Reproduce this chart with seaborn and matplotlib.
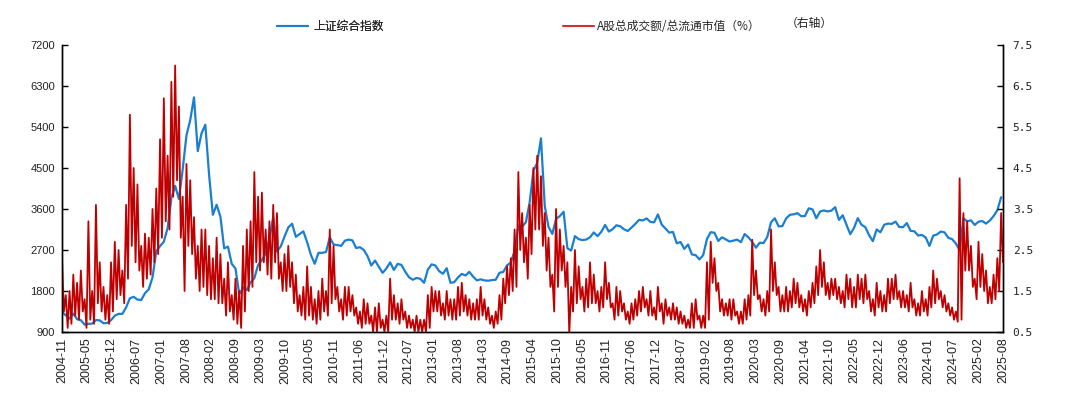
import numpy as np
import pandas as pd
import matplotlib
matplotlib.use("Agg")
import matplotlib.pyplot as plt
from matplotlib.lines import Line2D
import seaborn as sns

# ---------------- data (monthly, starting 2004-11) ----------------
start_month = "2004-11"
n_months = 250

# 上证综合指数 (left axis), one value per month
sh_index = [
    1340, 1266, 1191, 1306, 1181, 1159, 1060, 1080, 1083, 1162, 1155, 1092,
    1099, 1161, 1258, 1299, 1298, 1440, 1641, 1672, 1612, 1601, 1752, 1837,
    2099, 2675, 2786, 2881, 3183, 3841, 4109, 3820, 4471, 5218, 5552, 6050,
    4871, 5262, 5450, 4348, 3473, 3693, 3433, 2736, 2775, 2397, 2293, 1729,
    1871, 1821, 1991, 2082, 2373, 2477, 2632, 2959, 3412, 2667, 2779, 2996,
    3195, 3277, 2989, 3051, 3109, 2870, 2592, 2398, 2638, 2638, 2655, 2979,
    2820, 2808, 2790, 2905, 2928, 2911, 2743, 2762, 2701, 2568, 2359, 2468,
    2333, 2199, 2292, 2428, 2262, 2396, 2373, 2225, 2103, 2047, 2086, 2068,
    1980, 2269, 2385, 2359, 2236, 2178, 2300, 1979, 1994, 2098, 2175, 2141,
    2220, 2116, 2033, 2056, 2033, 2026, 2039, 2048, 2202, 2217, 2364, 2420,
    2683, 3235, 3210, 3310, 3748, 4442, 4612, 5150, 3664, 3206, 3053, 3383,
    3445, 3539, 2738, 2688, 3004, 2938, 2917, 2930, 2979, 3085, 3005, 3100,
    3250, 3104, 3159, 3242, 3223, 3155, 3117, 3192, 3273, 3361, 3349, 3393,
    3317, 3307, 3481, 3259, 3169, 3082, 3095, 2847, 2876, 2725, 2821, 2603,
    2588, 2494, 2585, 2941, 3091, 3078, 2899, 2979, 2932, 2886, 2905, 2929,
    2872, 3050, 2977, 2880, 2750, 2860, 2852, 2985, 3310, 3396, 3218, 3225,
    3392, 3473, 3483, 3509, 3441, 3447, 3615, 3591, 3397, 3544, 3568, 3547,
    3564, 3640, 3361, 3462, 3252, 3047, 3186, 3399, 3253, 3202, 3024, 2893,
    3151, 3089, 3255, 3280, 3273, 3323, 3205, 3202, 3291, 3120, 3110, 3018,
    3030, 2975, 2789, 3015, 3041, 3105, 3087, 2967, 2939, 2842, 2700, 3400,
    3326, 3352, 3250, 3321, 3336, 3279, 3347, 3444, 3573, 3858,
]

# A股总成交额/总流通市值 (%) (right axis): monthly high and low
turnover_high = [
    2.3, 1.4, 1.5, 1.9, 1.7, 2.0, 1.3, 3.2, 1.5, 3.6, 2.2, 1.6,
    1.4, 2.2, 2.7, 2.5, 2.0, 3.6, 5.8, 4.5, 4.1, 2.6, 2.9, 2.8,
    3.5, 4.0, 5.2, 6.2, 4.8, 6.6, 7.0, 6.0, 3.8, 4.6, 4.2, 3.3,
    2.6, 3.0, 3.0, 2.6, 2.3, 2.8, 2.4, 1.8, 2.2, 1.4, 1.8, 1.5,
    2.6, 3.0, 3.2, 4.4, 3.8, 3.9, 3.0, 3.2, 3.6, 3.4, 2.2, 2.4,
    2.6, 2.2, 1.9, 1.4, 1.6, 2.1, 1.6, 1.3, 1.5, 1.8, 1.5, 3.0,
    2.6, 1.6, 1.3, 1.6, 1.6, 1.4, 1.1, 1.0, 1.3, 1.2, 0.9, 1.1,
    1.2, 0.8, 0.9, 1.8, 1.4, 1.2, 1.3, 1.0, 0.9, 0.8, 0.9, 0.8,
    0.8, 1.4, 1.6, 1.5, 1.5, 1.2, 1.5, 1.3, 1.3, 1.6, 1.7, 1.4,
    1.3, 1.2, 1.3, 1.6, 1.3, 1.1, 0.9, 1.0, 1.4, 1.8, 2.1, 2.3,
    3.0, 4.4, 3.4, 2.8, 3.6, 4.5, 4.8, 4.3, 3.4, 2.8, 1.9, 3.5,
    3.0, 2.6, 2.2, 1.6, 2.5, 2.1, 1.6, 1.8, 2.2, 1.9, 1.5, 1.6,
    2.2, 1.7, 1.2, 1.6, 1.5, 1.2, 1.0, 1.2, 1.3, 1.5, 1.6, 1.3,
    1.5, 1.1, 1.6, 1.2, 1.3, 1.1, 1.2, 1.1, 1.0, 0.9, 0.8, 1.2,
    1.3, 0.9, 0.9, 2.2, 2.7, 2.3, 1.7, 1.3, 1.2, 1.3, 1.3, 1.0,
    1.0, 1.3, 1.4, 2.75, 2.0, 1.4, 1.3, 1.5, 3.0, 2.2, 1.6, 1.4,
    1.6, 1.5, 1.8, 1.7, 1.4, 1.3, 1.5, 1.7, 2.1, 2.5, 2.2, 1.7,
    1.8, 1.8, 1.6, 1.5, 1.9, 1.8, 1.6, 1.9, 1.8, 1.9, 1.5, 1.3,
    1.7, 1.5, 1.4, 1.8, 1.8, 1.9, 1.5, 1.5, 1.4, 1.7, 1.3, 1.2,
    1.5, 1.3, 1.6, 2.0, 1.8, 1.5, 1.4, 1.2, 1.1, 1.0, 4.25, 3.4,
    3.2, 2.6, 1.8, 2.7, 2.4, 2.0, 1.6, 1.9, 2.3, 3.4,
]
turnover_low = [
    1.0, 0.6, 0.7, 0.9, 0.8, 1.0, 0.6, 0.8, 0.7, 1.2, 1.0, 0.8,
    0.7, 1.0, 1.3, 1.4, 1.2, 1.8, 2.6, 2.2, 2.0, 1.6, 1.8, 1.9,
    2.2, 2.4, 2.8, 3.2, 3.0, 3.8, 4.2, 2.8, 1.5, 2.6, 2.4, 1.8,
    1.5, 1.6, 1.4, 1.3, 1.3, 1.2, 1.2, 0.9, 1.0, 0.8, 0.7, 0.6,
    1.0, 1.5, 1.6, 2.2, 2.0, 2.2, 1.9, 1.8, 2.2, 1.8, 1.5, 1.5,
    1.6, 1.2, 1.0, 0.9, 0.8, 0.9, 0.8, 0.7, 0.8, 1.0, 0.9, 1.2,
    1.3, 1.0, 0.8, 0.9, 1.0, 0.9, 0.7, 0.6, 0.7, 0.7, 0.5, 0.5,
    0.6, 0.5, 0.5, 0.8, 0.8, 0.7, 0.8, 0.6, 0.6, 0.5, 0.5, 0.5,
    0.5, 0.6, 1.0, 1.0, 0.9, 0.8, 0.9, 0.8, 0.8, 0.9, 1.0, 0.9,
    0.8, 0.8, 0.8, 0.9, 0.8, 0.7, 0.6, 0.7, 0.8, 1.2, 1.4, 1.5,
    1.6, 2.5, 2.2, 1.8, 2.4, 3.0, 3.0, 2.6, 2.0, 1.6, 1.0, 1.6,
    2.0, 1.6, 0.45, 1.0, 1.2, 1.3, 1.0, 1.1, 1.2, 1.2, 1.0, 1.1,
    1.3, 1.1, 0.8, 0.9, 1.0, 0.8, 0.7, 0.8, 0.9, 1.0, 1.1, 0.9,
    0.9, 0.8, 1.0, 0.7, 0.9, 0.8, 0.8, 0.7, 0.7, 0.6, 0.6, 0.6,
    0.8, 0.6, 0.6, 0.8, 1.7, 1.5, 1.0, 0.9, 0.9, 0.8, 0.9, 0.7,
    0.7, 0.8, 0.9, 1.4, 1.3, 1.0, 0.9, 1.0, 1.5, 1.4, 1.0, 1.0,
    1.0, 1.1, 1.2, 1.1, 1.0, 0.9, 1.1, 1.2, 1.4, 1.6, 1.4, 1.3,
    1.4, 1.3, 1.2, 1.1, 1.3, 1.1, 1.1, 1.3, 1.2, 1.3, 1.0, 0.9,
    1.1, 1.0, 1.0, 1.2, 1.3, 1.3, 1.1, 1.1, 1.0, 1.1, 0.9, 0.9,
    1.0, 0.9, 1.1, 1.2, 1.3, 1.1, 1.0, 0.9, 0.8, 0.75, 0.8, 2.0,
    2.0, 1.6, 1.3, 1.6, 1.5, 1.2, 1.2, 1.3, 1.5, 2.2,
]

x_tick_labels = [
    "2004-11", "2005-05", "2005-12", "2006-07", "2007-01", "2007-08", "2008-02",
    "2008-09", "2009-03", "2009-10", "2010-05", "2010-11", "2011-06", "2011-12",
    "2012-07", "2013-01", "2013-08", "2014-03", "2014-09", "2015-04", "2015-10",
    "2016-05", "2016-11", "2017-06", "2017-12", "2018-07", "2019-02", "2019-08",
    "2020-03", "2020-09", "2021-04", "2021-10", "2022-05", "2022-12", "2023-06",
    "2024-01", "2024-07", "2025-02", "2025-08",
]
left_ticks = [900, 1800, 2700, 3600, 4500, 5400, 6300, 7200]
right_ticks = [0.5, 1.5, 2.5, 3.5, 4.5, 5.5, 6.5, 7.5]

label_index = "上证综合指数"
label_turn = "A股总成交额/总流通市值（%）"
label_right = "（右轴）"

# ---------------- tables ----------------
month_pos = np.arange(n_months, dtype=float)
df_index = pd.DataFrame({"m": month_pos, "v": sh_index})
red_x = np.column_stack([month_pos, month_pos + 0.5]).ravel()
red_y = np.column_stack([turnover_high, turnover_low]).ravel()
df_turn = pd.DataFrame({"m": red_x, "v": red_y})

# ---------------- style ----------------
sns.set_style("white")
plt.rcParams["font.family"] = ["Liberation Sans", "Noto Sans CJK SC", "DejaVu Sans"]
plt.rcParams["axes.unicode_minus"] = False

BLUE = "#1a7fd0"
RED = "#c00000"

fig = plt.figure(figsize=(10.8, 3.94), dpi=100)
ax = fig.add_axes([62 / 1080, 1 - 332 / 394, (1003 - 62) / 1080, (332 - 45) / 394])
ax2 = ax.twinx()

sns.lineplot(data=df_index, x="m", y="v", ax=ax, color=BLUE, linewidth=1.6,
             estimator=None, sort=False)
sns.lineplot(data=df_turn, x="m", y="v", ax=ax2, color=RED, linewidth=1.3,
             estimator=None, sort=False)

xmax = n_months - 0.5
ax.set_xlim(0, xmax)
ax.set_ylim(900, 7200)
ax2.set_ylim(0.5, 7.5)

tick_pos = np.linspace(0, xmax, len(x_tick_labels))
ax.set_xticks(tick_pos)
ax.set_xticklabels(x_tick_labels, rotation=90, fontsize=9, family="Liberation Sans")
ax.set_yticks(left_ticks)
ax.set_yticklabels([str(v) for v in left_ticks], fontsize=8, family="Liberation Sans")
ax2.set_yticks(right_ticks)
ax2.set_yticklabels([f"{v:.1f}" for v in right_ticks], fontsize=8,
                    family="DejaVu Sans Mono", color="#222222")

for a in (ax, ax2):
    a.set_xlabel("")
    a.set_ylabel("")
    a.spines["top"].set_visible(False)
    for s in ("left", "right", "bottom"):
        a.spines[s].set_color("black")
        a.spines[s].set_linewidth(1.0)
ax.tick_params(axis="x", direction="in", length=4, width=1, pad=4, colors="black",
               labelcolor="#222222")
ax.tick_params(axis="y", direction="in", length=4, width=1, pad=5, colors="black",
               labelcolor="#222222", right=False)
ax2.tick_params(axis="y", direction="in", length=4, width=1, pad=7, colors="black",
                labelcolor="#222222")
ax.grid(False)
ax2.grid(False)

# ---------------- legend ----------------
cjk = ["Noto Sans CJK SC", "DejaVu Sans"]
h1 = Line2D([], [], color=BLUE, linewidth=1.5)
h2 = Line2D([], [], color="#d03030", linewidth=1.5)
leg1 = fig.legend([h1], [label_index], loc="center left",
                  bbox_to_anchor=(277 / 1080, 1 - 26.5 / 394), frameon=False,
                  borderpad=0, borderaxespad=0, handlelength=2.6, handletextpad=0.45,
                  prop={"family": cjk, "size": 8.5})
leg2 = fig.legend([h2], [label_turn], loc="center left",
                  bbox_to_anchor=(563 / 1080, 1 - 26.5 / 394), frameon=False,
                  borderpad=0, borderaxespad=0, handlelength=2.6, handletextpad=0.25,
                  prop={"family": cjk, "size": 8.5})
fig.add_artist(leg1)
fig.text(786 / 1080, 1 - 23 / 394, label_right, family=cjk, fontsize=8.5,
         ha="left", va="center", color="#222222")

fig.savefig("out.png", dpi=100, facecolor="white")
